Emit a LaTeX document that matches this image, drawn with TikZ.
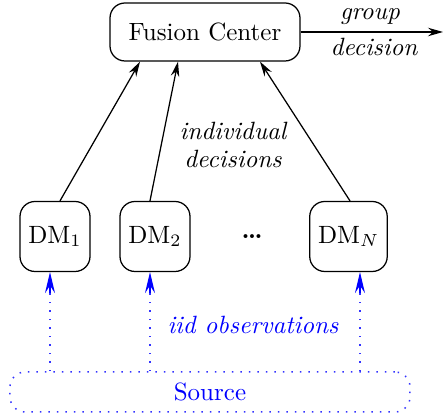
\documentclass[tikz,border=0pt]{standalone}
\usetikzlibrary{arrows.meta}
\begin{document}
\begin{tikzpicture}[x=0.4pt,y=-0.4pt,
  box/.style={draw,line width=0.5pt,rounded corners=6pt,inner sep=0pt},
  tip/.style={-{Stealth[length=6pt,width=3.4pt,inset=2pt]}},
  btip/.style={-{Stealth[length=8.4pt,width=4pt,inset=3pt]}},
  obs/.style={blue!80,line width=0.6pt,dash pattern=on 0.6pt off 2.8pt},
  lbl/.style={font=\itshape,inner sep=0pt}]
\useasboundingbox (0,0) rectangle (443,417);
\node[box,minimum width=76pt,minimum height=23.2pt] (fc) at (205,32) {Fusion Center};
\node[box,minimum width=28pt,minimum height=28pt] (dm1) at (55,236.5) {$\mathrm{DM}_1$};
\node[box,minimum width=28pt,minimum height=28pt] (dm2) at (155,236.5) {$\mathrm{DM}_2$};
\node[box,minimum width=31pt,minimum height=28pt] (dmN) at (348.5,236.5) {$\mathrm{DM}_N$};
\node (dots) at (252,237) {\textbf{\dots}};
\node[obs,draw,rounded corners=6pt,minimum width=160pt,minimum height=16pt,inner sep=0pt,text=blue] (src) at (210,392) {Source};
\coordinate (out) at (443,32);
\draw[tip,line width=0.5pt] (fc.east) -- (out);
\node[lbl] at (370,17) {group};
\node[lbl] at (374,47) {decision};
\draw[tip,line width=0.5pt] ([xshift=2pt]dm1.north) -- ([xshift=-26pt]fc.south);
\draw[tip,line width=0.5pt] ([xshift=-2pt]dm2.north) -- ([xshift=-10.8pt]fc.south);
\draw[tip,line width=0.5pt] ([xshift=0.6pt]dmN.north) -- ([xshift=22pt]fc.south);
\node[lbl,align=center] at (233,145) {individual\\[-1pt] decisions};
\coordinate (o1) at (50,293);
\coordinate (o2) at (150,293);
\coordinate (oN) at (360,293);
\draw[obs] (o1 |- src.north) -- (o1);
\draw[blue,btip,line width=0.5pt] (o1) -- (o1 |- dm1.south);
\draw[obs] (o2 |- src.north) -- (o2);
\draw[blue,btip,line width=0.5pt] (o2) -- (o2 |- dm2.south);
\draw[obs] (oN |- src.north) -- (oN);
\draw[blue,btip,line width=0.5pt] (oN) -- (oN |- dmN.south);
\node[lbl,text=blue] at (253,325) {iid observations};
\end{tikzpicture}
\end{document}
